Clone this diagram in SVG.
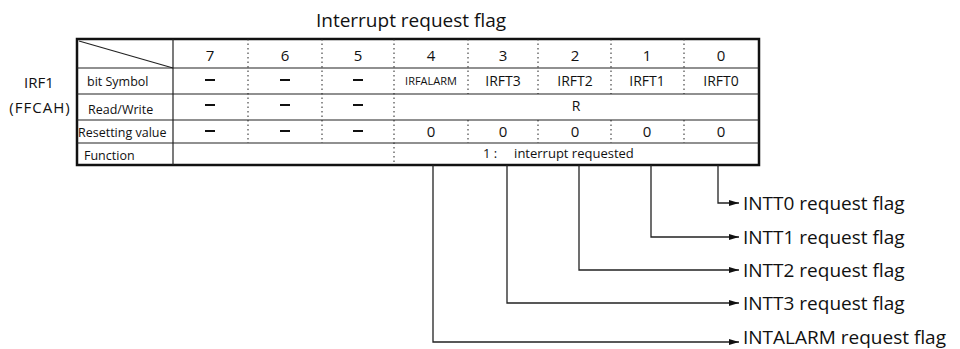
<svg xmlns="http://www.w3.org/2000/svg" width="960" height="349" viewBox="0 0 960 349">
<style>
text{font-family:"Open Sans","Noto Sans","DejaVu Sans",sans-serif;fill:#111}
.t{font-size:19px}
.lbl{font-size:15px}
.rh{font-size:12.5px}
.c{text-anchor:middle}
.d{font-size:15px}
.s{font-size:14px}
.sm{font-size:11px}
.fn{font-size:13px}
.dash{stroke:#111;stroke-width:2}
.grid{stroke:#222;stroke-width:1.2;fill:none}
.dot{stroke:#222;stroke-width:1;stroke-dasharray:1.5 3;fill:none}
.conn{stroke:#222;stroke-width:1.3;fill:none}
</style>
<defs>
<marker id="arr" viewBox="0 0 10 6" refX="10" refY="3" markerWidth="10" markerHeight="6" markerUnits="userSpaceOnUse" orient="auto">
<path d="M0,0 L10,3 L0,6 Z" fill="#111"/>
</marker>
</defs>

<text id="title" class="t c" x="411" y="27">Interrupt request flag</text>

<g id="register-label">
<text class="lbl c" x="39" y="88">IRF1</text>
<text class="lbl c" x="40" y="113" letter-spacing="1">(FFCAH)</text>
</g>

<g id="table">
<rect x="77" y="39" width="682" height="126" fill="none" stroke="#111" stroke-width="2.5"/>
<line class="grid" x1="79" y1="41" x2="173" y2="68"/>
<line class="grid" x1="77" y1="68" x2="759" y2="68"/>
<line class="grid" x1="77" y1="94" x2="759" y2="94"/>
<line class="grid" x1="77" y1="120" x2="759" y2="120"/>
<line class="grid" x1="77" y1="143" x2="759" y2="143"/>
<line class="grid" x1="173" y1="39" x2="173" y2="165" stroke-width="1.6"/>
<path class="dot" d="M248,39V143 M322,39V143 M394,39V165 M468,39V94 M468,120V143 M538,39V94 M538,120V143 M611,39V94 M611,120V143 M684,39V94 M684,120V143"/>

<text class="d c" x="210" y="61">7</text>
<text class="d c" x="285" y="61">6</text>
<text class="d c" x="358" y="61">5</text>
<text class="d c" x="431" y="61">4</text>
<text class="d c" x="503" y="61">3</text>
<text class="d c" x="575" y="61">2</text>
<text class="d c" x="647" y="61">1</text>
<text class="d c" x="721" y="61">0</text>

<text class="rh" x="87" y="86">bit Symbol</text>
<text class="rh" x="88" y="114">Read/Write</text>
<text class="rh" x="78" y="137">Resetting value</text>
<text class="rh" x="84" y="160">Function</text>

<path class="dash" d="M205,80h10 M280,80h10 M353,80h10 M205,105h10 M280,105h10 M353,105h10 M205,131h10 M280,131h10 M353,131h10"/>
<text class="sm c" x="431" y="85">IRFALARM</text>
<text class="s c" x="503" y="86">IRFT3</text>
<text class="s c" x="575" y="86">IRFT2</text>
<text class="s c" x="647" y="86">IRFT1</text>
<text class="s c" x="721" y="86">IRFT0</text>

<text class="s c" x="576" y="111">R</text>

<text class="d c" x="431" y="137">0</text>
<text class="d c" x="503" y="137">0</text>
<text class="d c" x="575" y="137">0</text>
<text class="d c" x="647" y="137">0</text>
<text class="d c" x="721" y="137">0</text>

<text class="fn" x="483" y="158" xml:space="preserve">1 :     interrupt requested</text>
</g>

<g id="connectors">
<path class="conn" d="M718,165V203H739" marker-end="url(#arr)"/>
<path class="conn" d="M651,165V237H739" marker-end="url(#arr)"/>
<path class="conn" d="M579,165V270H739" marker-end="url(#arr)"/>
<path class="conn" d="M507,165V303H739" marker-end="url(#arr)"/>
<path class="conn" d="M433,165V342H739" marker-end="url(#arr)"/>
</g>

<g id="flag-intt0"><text class="t" x="743" y="210">INTT0 request flag</text></g>
<g id="flag-intt1"><text class="t" x="743" y="244">INTT1 request flag</text></g>
<g id="flag-intt2"><text class="t" x="743" y="277">INTT2 request flag</text></g>
<g id="flag-intt3"><text class="t" x="743" y="310">INTT3 request flag</text></g>
<g id="flag-intalarm"><text class="t" x="743" y="344">INTALARM request flag</text></g>
</svg>
